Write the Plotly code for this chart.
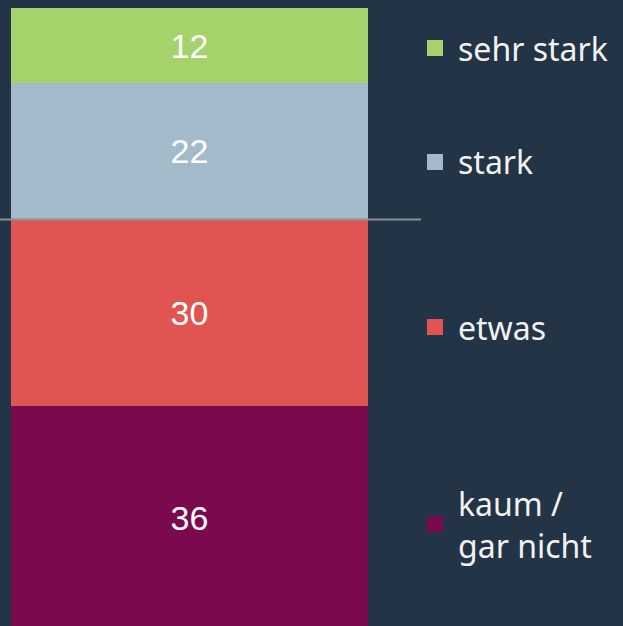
import plotly.graph_objects as go

# Data
categories = ["kaum /<br>gar nicht", "etwas", "stark", "sehr stark"]
values = [36, 30, 22, 12]
colors = ["#7B094D", "#E05452", "#A3BACA", "#A6D26B"]

# Layout helpers (pixel positions in a 623x626 canvas)
W, H = 623, 626
legend_y_px = [524, 327, 162, 48]
bg = "#223445"

fig = go.Figure()
for cat, val, col in zip(categories, values, colors):
    fig.add_trace(go.Bar(
        x=[0], y=[val], width=[1], name=cat.replace("<br>", " "),
        marker=dict(color=col, line=dict(width=0)),
        text=[str(val)], textposition="inside", insidetextanchor="middle",
        textangle=0,
        textfont=dict(family="Liberation Sans, Arial", size=34, color="white"),
        showlegend=False,
    ))

# neutral line at the boundary between "etwas" and "stark"
neutral = values[0] + values[1]
fig.add_shape(type="line", xref="paper", yref="y", x0=0, x1=421 / W,
              y0=neutral, y1=neutral, line=dict(color="#8c9196", width=2))

# custom legend
for cat, col, ypx in zip(categories, colors, legend_y_px):
    yc = 1 - ypx / H
    fig.add_shape(type="rect", xref="paper", yref="paper",
                  x0=427 / W, x1=443 / W, y0=yc - 8 / H, y1=yc + 8 / H,
                  fillcolor=col, line=dict(width=0))
    fig.add_annotation(xref="paper", yref="paper", x=456 / W, y=yc,
                       xanchor="left", yanchor="middle", showarrow=False,
                       text=cat, align="left",
                       font=dict(family="Noto Sans, Open Sans", size=32, color="#F2F2F2"))

scale = 6.22  # px per unit
bottom_px = 630
fig.update_layout(
    width=W, height=H,
    margin=dict(l=0, r=0, t=0, b=0),
    paper_bgcolor=bg, plot_bgcolor=bg,
    barmode="stack", bargap=0,
    xaxis=dict(range=[-0.5 - 11 / 357, 0.5 + (W - 368) / 357], visible=False, fixedrange=True),
    yaxis=dict(range=[(bottom_px - H) / scale, bottom_px / scale], visible=False, fixedrange=True),
    uniformtext=dict(mode=False),
)

fig.write_html("out.html", config={"displayModeBar": False},
               post_script="document.body.style.margin='0';document.body.style.background='" + bg + "';")
